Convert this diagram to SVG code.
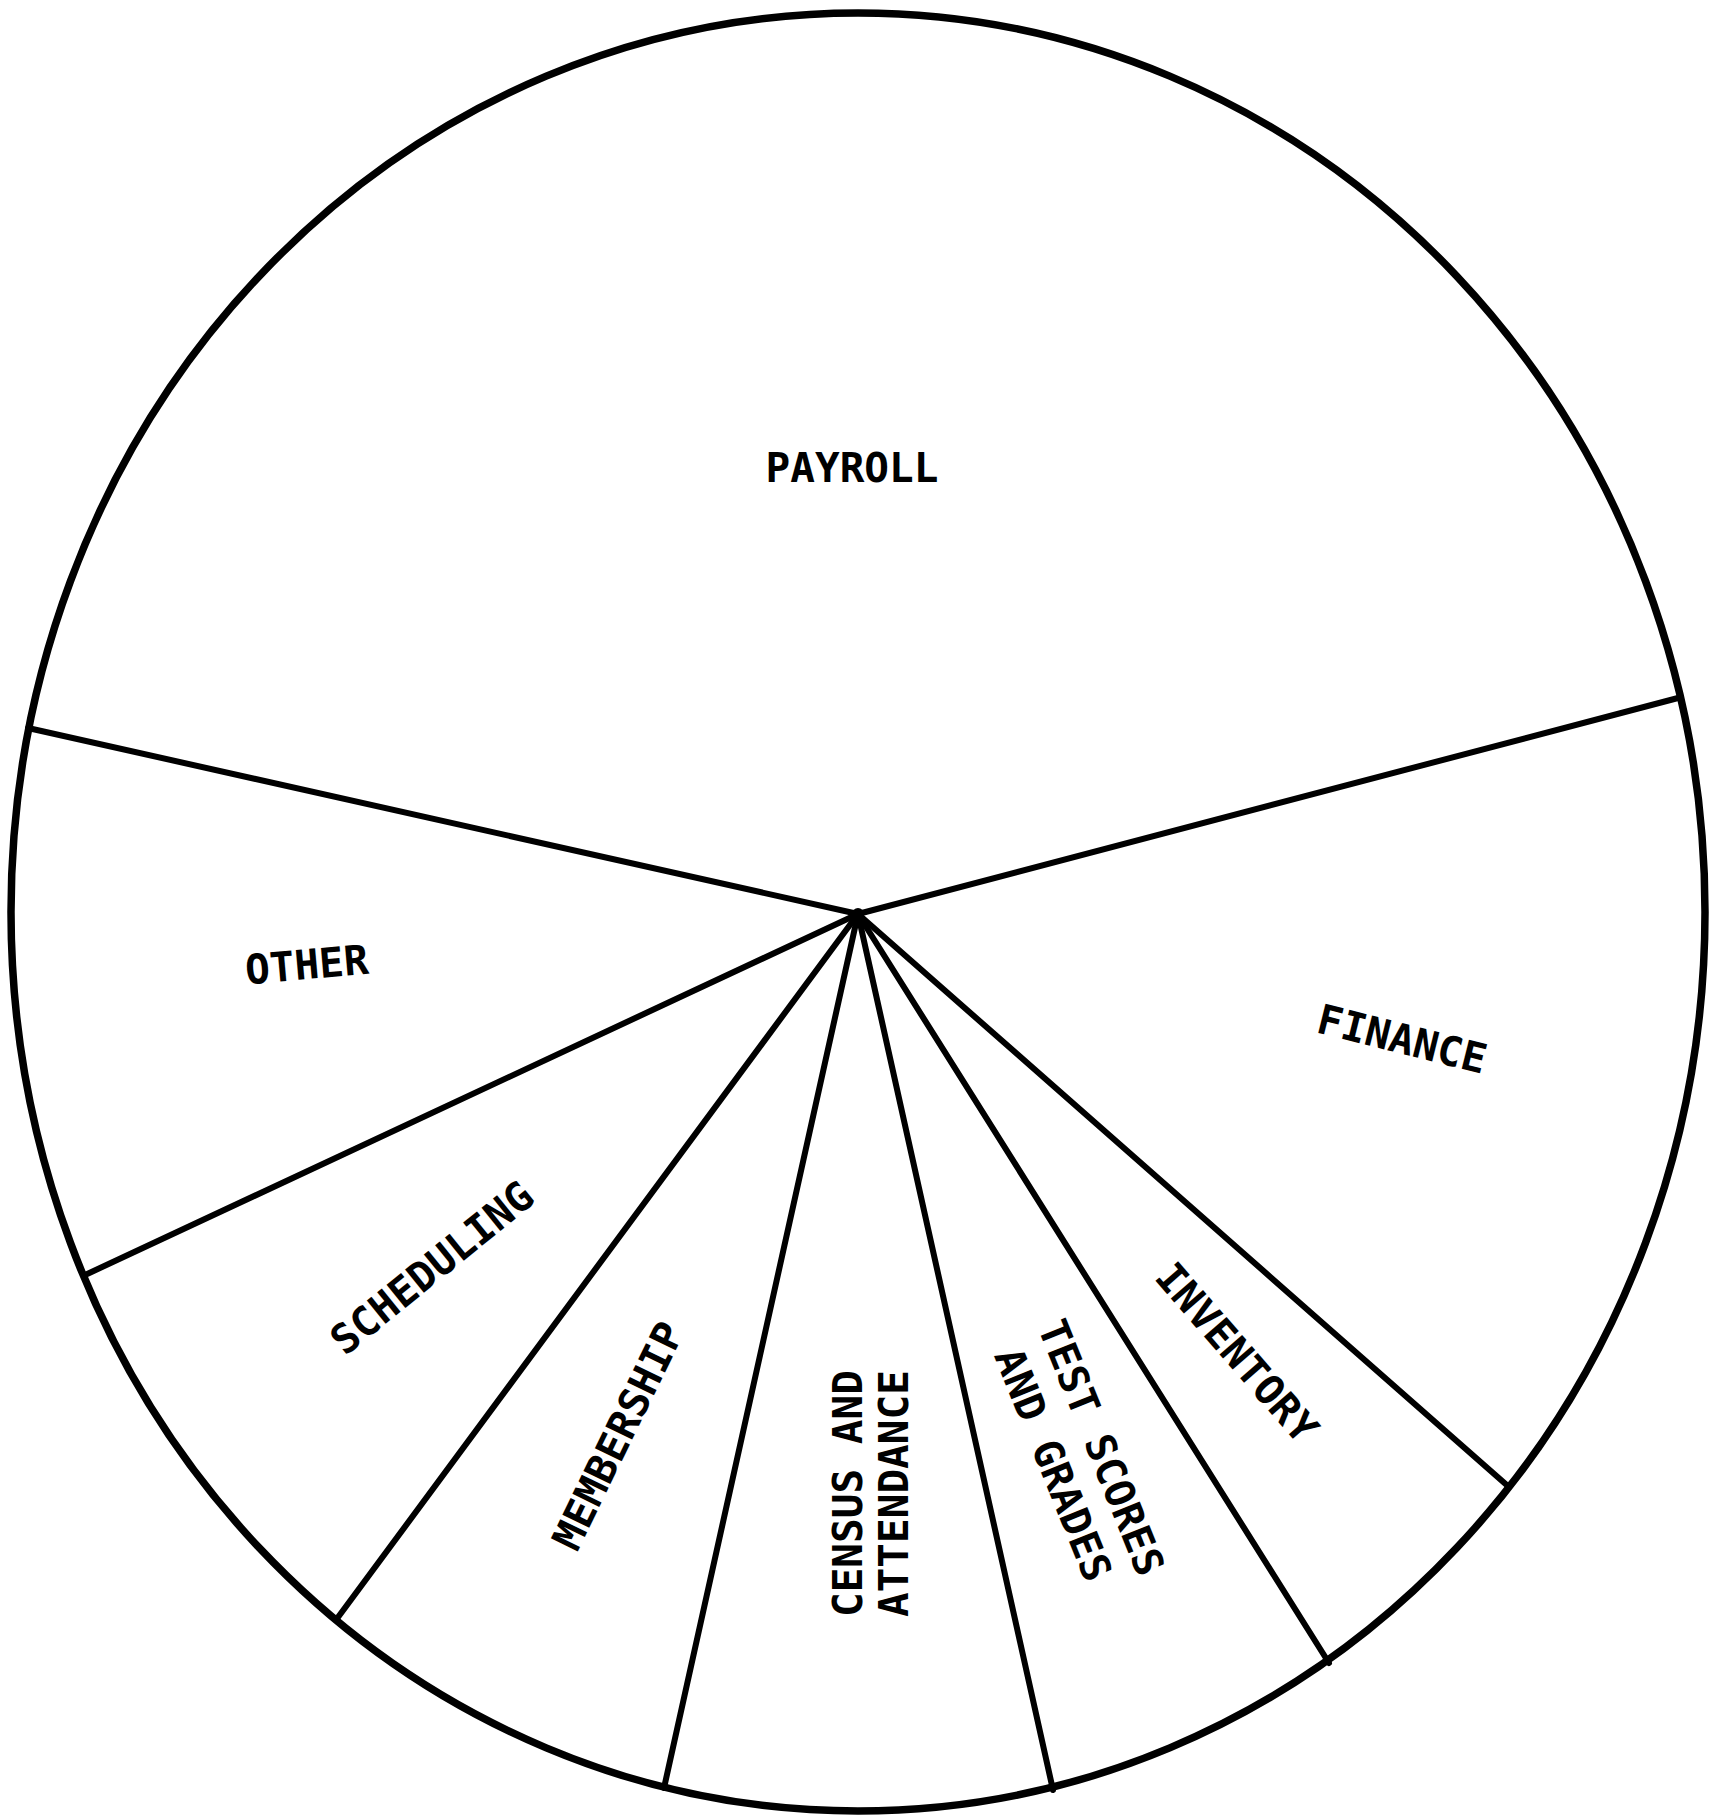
<svg xmlns="http://www.w3.org/2000/svg" width="1721" height="1817" viewBox="0 0 1721 1817">
<style>
.lbl{font-family:"DejaVu Sans Mono","Liberation Mono",monospace;font-size:41px;font-weight:bold;fill:#000}
.rim{fill:none;stroke:#000;stroke-width:7.5}
.spoke{stroke:#000;stroke-width:6;stroke-linecap:round}
</style>
<rect width="1721" height="1817" fill="#fff"/>
<g id="pie">
<ellipse class="rim" cx="858" cy="912" rx="847" ry="899"/>
</g>
<g id="connectors">
<line class="spoke" x1="858" y1="914" x2="28" y2="728"/>
<line class="spoke" x1="858" y1="914" x2="1678" y2="698"/>
<line class="spoke" x1="858" y1="914" x2="85" y2="1275"/>
<line class="spoke" x1="858" y1="914" x2="336" y2="1620"/>
<line class="spoke" x1="858" y1="914" x2="664" y2="1788"/>
<line class="spoke" x1="858" y1="914" x2="1053" y2="1790"/>
<line class="spoke" x1="858" y1="914" x2="1329" y2="1663"/>
<line class="spoke" x1="858" y1="914" x2="1509" y2="1487"/>
<circle cx="858" cy="914" r="6" fill="#000"/>
</g>
<g id="payroll"><text class="lbl" x="852" y="482" text-anchor="middle">PAYROLL</text></g>
<g id="finance"><text class="lbl" text-anchor="middle" transform="translate(1398.5,1053) rotate(14)">FINANCE</text></g>
<g id="inventory"><text class="lbl" text-anchor="middle" transform="translate(1226,1362) rotate(49)">INVENTORY</text></g>
<g id="test-scores">
<text class="lbl" text-anchor="middle" transform="translate(1088,1453) rotate(68)">TEST SCORES</text>
<text class="lbl" text-anchor="middle" transform="translate(1040,1470) rotate(68)">AND GRADES</text>
</g>
<g id="census">
<text class="lbl" transform="translate(862,1617) rotate(-90)">CENSUS AND</text>
<text class="lbl" transform="translate(908,1617) rotate(-90)">ATTENDANCE</text>
</g>
<g id="membership"><text class="lbl" text-anchor="middle" transform="translate(631,1442) rotate(-64)">MEMBERSHIP</text></g>
<g id="scheduling"><text class="lbl" text-anchor="middle" transform="translate(441,1279) rotate(-39)">SCHEDULING</text></g>
<g id="other"><text class="lbl" text-anchor="middle" transform="translate(308,979) rotate(-5)">OTHER</text></g>
</svg>
